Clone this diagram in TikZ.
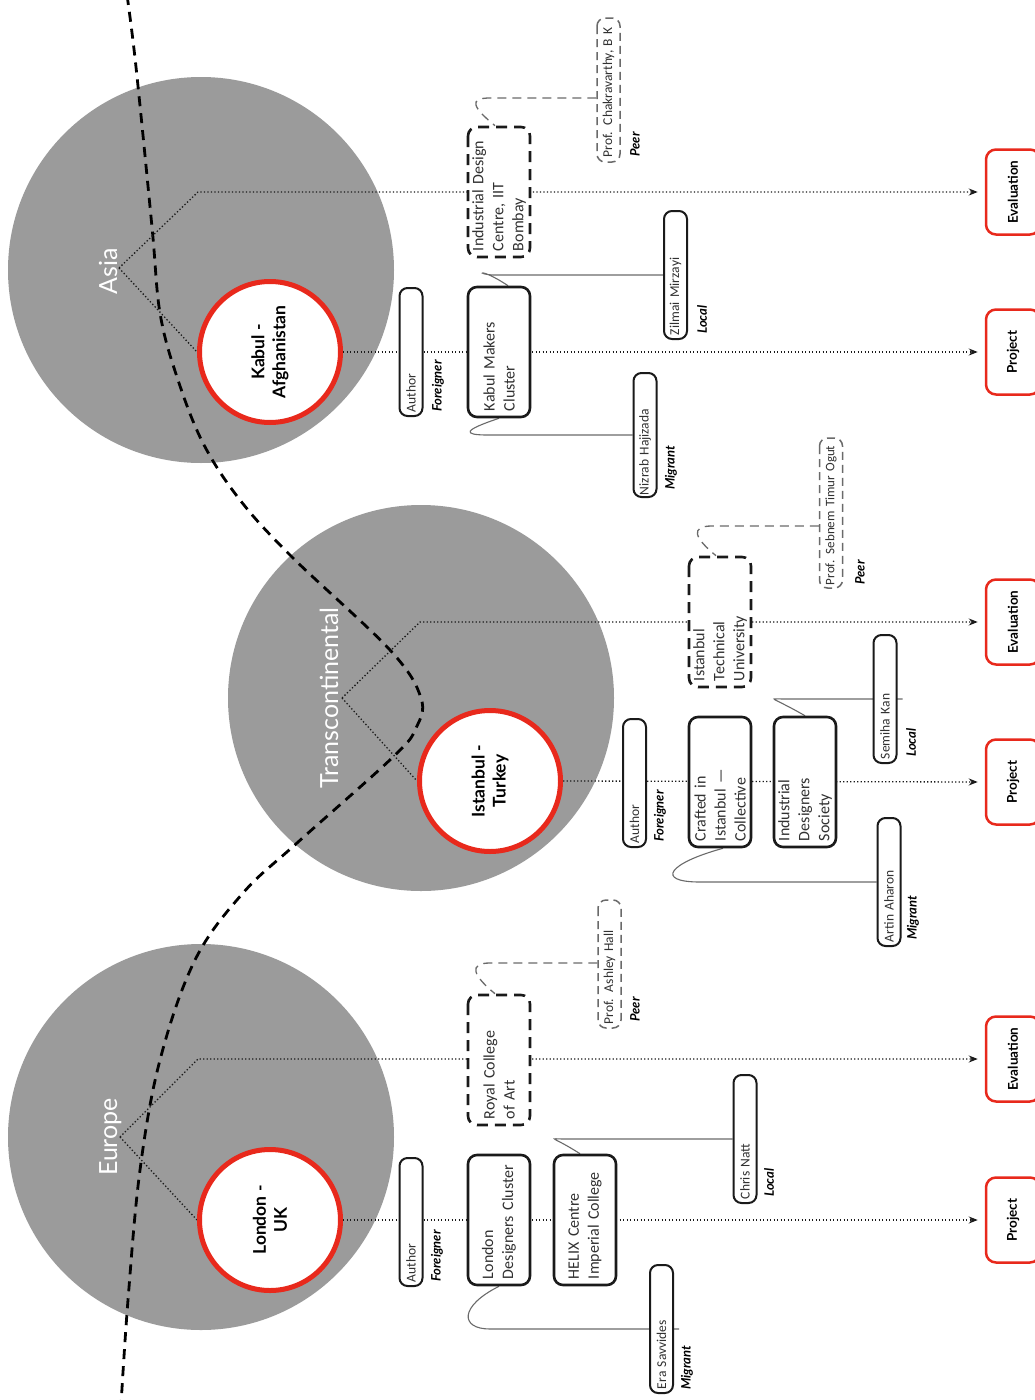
\documentclass[tikz,border=0pt]{standalone}
\usepackage{fontspec}
\setmainfont{Open Sans}
\newfontfamily\boxfont{Carlito}
\newfontfamily\labfont{Lato}
\usetikzlibrary{calc,arrows.meta}
\definecolor{disc}{HTML}{9B9B9B}
\definecolor{hot}{HTML}{E8291C}
\definecolor{ink}{HTML}{1A1A1A}
\definecolor{wire}{HTML}{6A6A6A}
\pgfdeclarelayer{back}
\pgfdeclarelayer{mid}
\pgfsetlayers{back,mid,main}
\begin{document}
\begin{tikzpicture}[x=1pt,y=-1pt,
  region/.style={circle, fill=disc, draw=none, minimum size=386pt, inner sep=0pt},
  city/.style={circle, draw=hot, line width=5pt, fill=white, minimum size=141pt, inner sep=0pt,
    align=center, rotate=90, font=\labfont\bfseries\fontsize{17.5}{21}\selectfont},
  continent/.style={rotate=90, anchor=base, text=white, inner sep=0pt,
    font=\labfont\fontsize{25}{28}\selectfont},
  orgbox/.style={draw=ink, line width=2.6pt, rounded corners=9pt, fill=white, rotate=90,
    minimum width=130pt, minimum height=62pt, text width=118pt, inner sep=0pt, align=left,
    font={\boxfont\fontsize{16}{20}\selectfont\hyphenpenalty=10000\relax}, text=ink!90},
  orgdash/.style={orgbox, dash pattern=on 11pt off 7pt},
  person/.style={draw=ink, line width=2pt, rounded corners=8pt, fill=white, rotate=90,
    minimum width=128pt, minimum height=23pt, text width=120pt, inner sep=0pt, align=left,
    font=\boxfont\fontsize{13.5}{15}\selectfont, text=ink!90},
  peerbox/.style={person, draw=wire, line width=1.5pt, dash pattern=on 8pt off 5pt},
  role/.style={rotate=90, anchor=west, inner sep=0pt,
    font=\labfont\bfseries\itshape\fontsize{13}{14}\selectfont},
  outbox/.style={draw=hot, line width=2.5pt, rounded corners=10pt, fill=white, rotate=90,
    minimum width=85pt, minimum height=54pt, inner sep=0pt,
    font=\labfont\bfseries\fontsize{13.5}{15}\selectfont},
  flow/.style={draw=ink, line width=1.3pt, dash pattern=on 1.3pt off 2.2pt},
  tip/.style={-{Stealth[length=9pt,width=7pt]}, shorten >=7pt},
  border/.style={draw=black, line width=2.8pt, dash pattern=on 10pt off 7pt},
  link/.style={draw=wire, line width=1.1pt},
  peerlink/.style={draw=wire, line width=1.3pt, dash pattern=on 9pt off 6pt}
]
\useasboundingbox (0,0) rectangle (1034,1400);

% ---------- regions ----------
\begin{pgfonlayer}{back}
  \fill[white] (0,0) rectangle (1034,1400);
  \node[region] (asiaR)  at (201,270)  {};
  \node[region] (transR) at (421,698)  {};
  \node[region] (euR)    at (201,1137) {};
\end{pgfonlayer}

% ---------- cities ----------
\node[city] (kab) at (270,352)  {Kabul -\\Afghanistan};
\node[city] (ist) at (490,781)  {Istanbul -\\Turkey};
\node[city] (lon) at (270,1220) {London -\\UK};

\node[continent] (asiaL)  at (117,271)  {Asia};
\node[continent] (transL) at (338,698)  {Transcontinental};
\node[continent] (euL)    at (117,1137) {Europe};

\coordinate (apA) at (119,268);
\coordinate (apT) at (342,698);
\coordinate (apE) at (120,1137);
\coordinate (kA) at (198,192);
\coordinate (kT) at (420,622);
\coordinate (kE) at (198,1059);

% ---------- outcomes ----------
\node[outbox] (ev1) at (1013,192)  {Evaluation};
\node[outbox] (pr1) at (1013,352)  {Project};
\node[outbox] (ev2) at (1013,622)  {Evaluation};
\node[outbox] (pr2) at (1013,782)  {Project};
\node[outbox] (ev3) at (1013,1059) {Evaluation};
\node[outbox] (pr3) at (1013,1220) {Project};

% ---------- Kabul ----------
\node[person] (auth1) at (411,352) {Author};
\node[role] (f1) at (438,412) {Foreigner};
\node[orgbox] (kmc) at (499,352) {Kabul Makers\\Cluster};
\node[orgdash] (idc) at (499,192) {Industrial Design\\Centre, IIT\\Bombay};
\node[person] (zil) at (675.5,275) {Zilmai Mirzayi};
\node[role] (l1) at (702,334) {Local};
\node[person, minimum width=124pt] (niz) at (645,435) {Nizrab Hajizada};
\node[role] (m1) at (671,490) {Migrant};
\node[peerbox, minimum width=144pt, text width=134pt] (chak) at (608.5,90) {Prof. Chakravarthy, B K};
\node[role] (p1) at (635,157) {Peer};

% ---------- Istanbul ----------
\node[person] (auth2) at (634.5,783) {Author};
\node[role] (f2) at (660,842) {Foreigner};
\node[orgbox] (cic) at (720,782) {Crafted in\\Istanbul —\\Collective};
\node[orgbox] (ids) at (805,782) {Industrial\\Designers\\Society};
\node[orgdash] (itu) at (720,622) {Istanbul\\Technical\\University};
\node[person] (sem) at (885,699) {Semiha Kan};
\node[role] (l2) at (911,757) {Local};
\node[person] (art) at (889,882) {Artin Aharon};
\node[role] (m2) at (913,940) {Migrant};
\node[peerbox, minimum width=150pt, text width=144pt, font=\boxfont\fontsize{13}{15}\selectfont] (seb) at (831,513) {Prof. Sebnem Timur Ogut};
\node[role] (p2) at (860,585) {Peer};

% ---------- London ----------
\node[person] (auth3) at (411,1222) {Author};
\node[role] (f3) at (437,1282) {Foreigner};
\node[orgbox] (ldc) at (499,1220) {London\\Designers Cluster};
\node[orgbox] (helix) at (585,1220) {HELIX Centre\\Imperial College};
\node[orgdash] (rca) at (499,1060) {Royal College\\of Art};
\node[person] (chris) at (745,1139) {Chris Natt};
\node[role] (l3) at (769,1197) {Local};
\node[person] (era) at (661.5,1329) {Era Savvides};
\node[role] (m3) at (687,1390) {Migrant};
\node[peerbox] (ash) at (609.5,964) {Prof. Ashley Hall};
\node[role] (p3) at (635,1022) {Peer};

% ---------- connectors ----------
\begin{pgfonlayer}{mid}
  % continent border
  \draw[border] plot[smooth, tension=0.6] coordinates {
    (127,-5) (136,67) (152,227) (160,313) (177,377) (203,443) (240,500) (292,557)
    (390,650) (421,698) (416,728) (393,757) (297,843) (243,893) (195,960)
    (160,1060) (140,1170) (128,1300) (121,1405)};

  % region to city and outcomes
  \draw[flow] (apA) -- (kab.north);
  \draw[flow, tip] (apA) -- (kA) -- (ev1.north);
  \draw[flow, tip] (kab.south) -- (pr1.north);
  \draw[flow] (apT) -- (ist.north);
  \draw[flow, tip] (apT) -- (kT) -- (ev2.north);
  \draw[flow, tip] (ist.south) -- (pr2.north);
  \draw[flow] (apE) -- (lon.north);
  \draw[flow, tip] (apE) -- (kE) -- (ev3.north);
  \draw[flow, tip] (lon.south) -- (pr3.north);

  % people to organisations
  \draw[link] (zil.north) -- ($(kmc.east |- zil.north)+(-4,0)$)
    .. controls +(-20,0) and +(-30,-20) .. ($(kmc.east)+(9,0)$);
  \draw[link] (niz.north) -- ($(kmc.west |- niz.north)+(-11,0)$)
    .. controls +(-26,0) and +(-36,12) .. (kmc.west);
  \draw[link] ($(sem.south)+(5,0)$) -- ($(ids.east |- sem.north)+(-20,0)$)
    .. controls +(-18,0) and +(-35,-20) .. (ids.east);
  \draw[link] (art.north) -- ($(cic.west |- art.north)+(-20,0)$)
    .. controls +(-45,0) and +(-55,15) .. ($(cic.west)+(3,0)$);
  \draw[link] (chris.north) -- ($(helix.east |- chris.north)+(-20,0)$)
    .. controls +(-18,0) and +(-28,-18) .. ($(helix.east)+(-5,0)$);
  \draw[link] ($(era.south)+(5,0)$) -- ($(ldc.west |- era.north)+(-9,0)$)
    .. controls +(-30,0) and +(-40,20) .. (ldc.west);

  % peers
  \draw[peerlink] ($(chak.north)+(0,8)$) -- ($(idc.east |- chak.north)+(-9,8)$)
    .. controls +(-22,0) and +(-22,-18) .. ($(idc.east)+(-4,0)$);
  \draw[peerlink] ($(seb.north)+(0,13)$) -- ($(itu.east |- seb.north)+(-8,13)$)
    .. controls +(-22,0) and +(-22,-18) .. ($(itu.east)+(-4,0)$);
  \draw[peerlink] ($(ash.north)+(0,-1)$) -- ($(rca.east |- ash.north)+(-9,-1)$)
    .. controls +(-22,0) and +(-22,-18) .. ($(rca.east)+(-4,0)$);
\end{pgfonlayer}
\end{tikzpicture}
\end{document}
